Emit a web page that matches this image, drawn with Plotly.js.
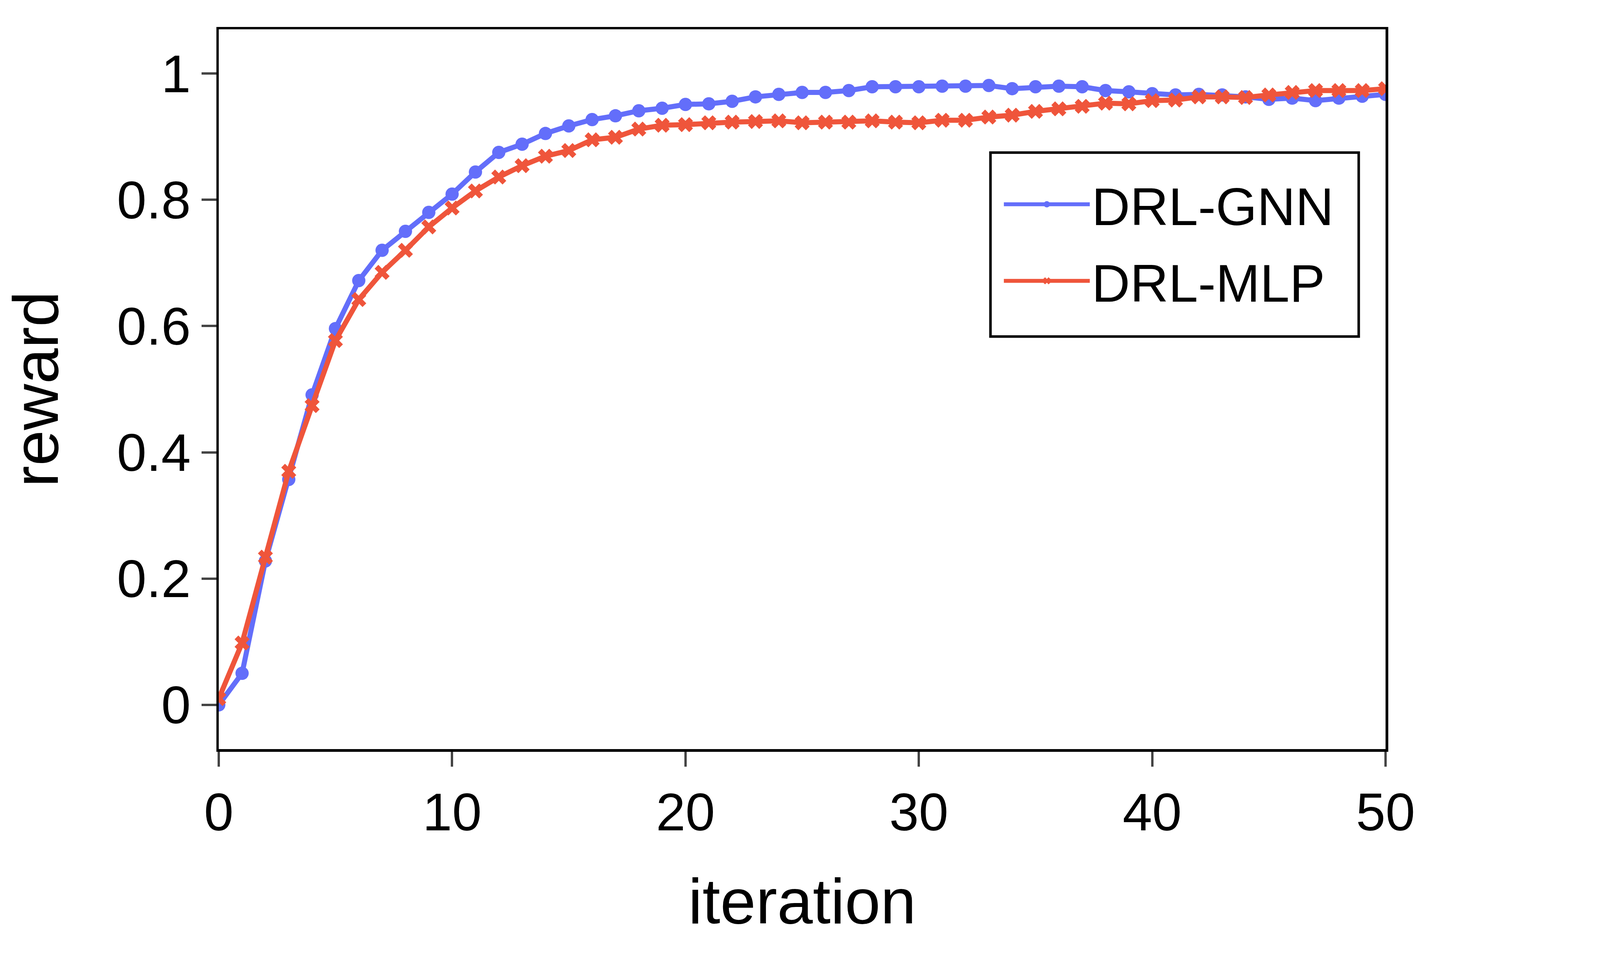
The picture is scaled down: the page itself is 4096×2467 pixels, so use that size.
<!DOCTYPE html>
<html>
<head>
<meta charset="utf-8">
<script src="https://cdn.plot.ly/plotly-3.0.1.min.js"></script>
<style>
html, body { margin: 0; padding: 0; background: #ffffff; }
#chart { width: 4096px; height: 2467px; }
</style>
</head>
<body>
<div id="chart"></div>
<script>
const iterations = [0, 1, 2, 3, 4, 5, 6, 7, 8, 9, 10, 11, 12, 13, 14, 15, 16, 17, 18, 19, 20,
  21, 22, 23, 24, 25, 26, 27, 28, 29, 30, 31, 32, 33, 34, 35, 36, 37, 38, 39, 40,
  41, 42, 43, 44, 45, 46, 47, 48, 49, 50];

const gnnReward = [0.000, 0.050, 0.228, 0.357, 0.491, 0.596, 0.672, 0.720, 0.750, 0.780, 0.809,
  0.844, 0.875, 0.888, 0.905, 0.917, 0.927, 0.933, 0.941, 0.945, 0.951,
  0.952, 0.956, 0.963, 0.967, 0.970, 0.970, 0.973, 0.979, 0.979, 0.979,
  0.980, 0.980, 0.981, 0.976, 0.979, 0.980, 0.979, 0.973, 0.971, 0.968,
  0.966, 0.967, 0.966, 0.963, 0.959, 0.961, 0.957, 0.961, 0.964, 0.967];

const mlpReward = [0.010, 0.098, 0.234, 0.370, 0.474, 0.577, 0.642, 0.685, 0.720, 0.757, 0.787,
  0.814, 0.836, 0.854, 0.869, 0.878, 0.895, 0.899, 0.912, 0.918, 0.919,
  0.922, 0.923, 0.924, 0.925, 0.922, 0.923, 0.923, 0.925, 0.923, 0.922,
  0.926, 0.926, 0.931, 0.934, 0.940, 0.944, 0.948, 0.953, 0.952, 0.957,
  0.958, 0.963, 0.963, 0.962, 0.966, 0.970, 0.973, 0.973, 0.973, 0.976];

const seriesNames = ['DRL-GNN', 'DRL-MLP'];
const seriesColors = ['#636EFA', '#EF553B'];
const seriesSymbols = ['circle', 'x'];

const xTickVals = [0, 10, 20, 30, 40, 50];
const xTickText = ['0', '10', '20', '30', '40', '50'];
const yTickVals = [0, 0.2, 0.4, 0.6, 0.8, 1];
const yTickText = ['0', '0.2', '0.4', '0.6', '0.8', '1'];

const xTitle = 'iteration';
const yTitle = 'reward';

const FONT = 'Arial, "Liberation Sans", Helvetica, sans-serif';

const seriesValues = [gnnReward, mlpReward];
const traces = seriesValues.map((vals, k) => ({
  type: 'scatter',
  mode: 'lines+markers',
  x: iterations,
  y: vals,
  name: seriesNames[k],
  legendgroup: 'g' + k,
  line: { color: seriesColors[k], width: 13 },
  marker: { color: seriesColors[k], symbol: seriesSymbols[k], size: 34 }
}));

const axisCommon = {
  showgrid: false,
  zeroline: false,
  showline: true,
  linecolor: '#000000',
  linewidth: 6.5,
  mirror: true,
  ticks: 'outside',
  ticklen: 38,
  tickwidth: 6,
  tickcolor: '#444444',
  tickfont: { family: FONT, size: 136, color: '#000000' }
};

const layout = {
  width: 4096,
  height: 2467,
  margin: { l: 560, r: 549, t: 75, b: 550, pad: 0 },
  paper_bgcolor: '#ffffff',
  plot_bgcolor: '#ffffff',
  font: { family: FONT, color: '#000000' },
  showlegend: true,
  legend: {
    x: 0.6712, y: 0.8084, xanchor: 'left', yanchor: 'top',
    bgcolor: 'rgba(0,0,0,0)',
    borderwidth: 0,
    font: { family: FONT, size: 136, color: '#000000' },
    itemwidth: 220,
    tracegroupgap: 16
  },
  shapes: [{
    type: 'rect', xref: 'paper', yref: 'paper',
    x0: 0.6614, x1: 0.9770, y0: 0.5732, y1: 0.8287,
    line: { color: '#000000', width: 6.5 },
    fillcolor: 'rgba(0,0,0,0)',
    layer: 'above'
  }],
  xaxis: Object.assign({}, axisCommon, {
    range: [0, 50],
    tickmode: 'array',
    tickvals: xTickVals,
    ticktext: xTickText,
    title: { text: xTitle, font: { family: FONT, size: 164, color: '#000000' }, standoff: 98 }
  }),
  yaxis: Object.assign({}, axisCommon, {
    range: [-0.07, 1.07],
    tickmode: 'array',
    tickvals: yTickVals,
    ticktext: yTickText,
    title: { text: yTitle, font: { family: FONT, size: 164, color: '#000000' }, standoff: 120 }
  })
};

Plotly.newPlot('chart', traces, layout, { staticPlot: true, displayModeBar: false });
</script>
</body>
</html>
